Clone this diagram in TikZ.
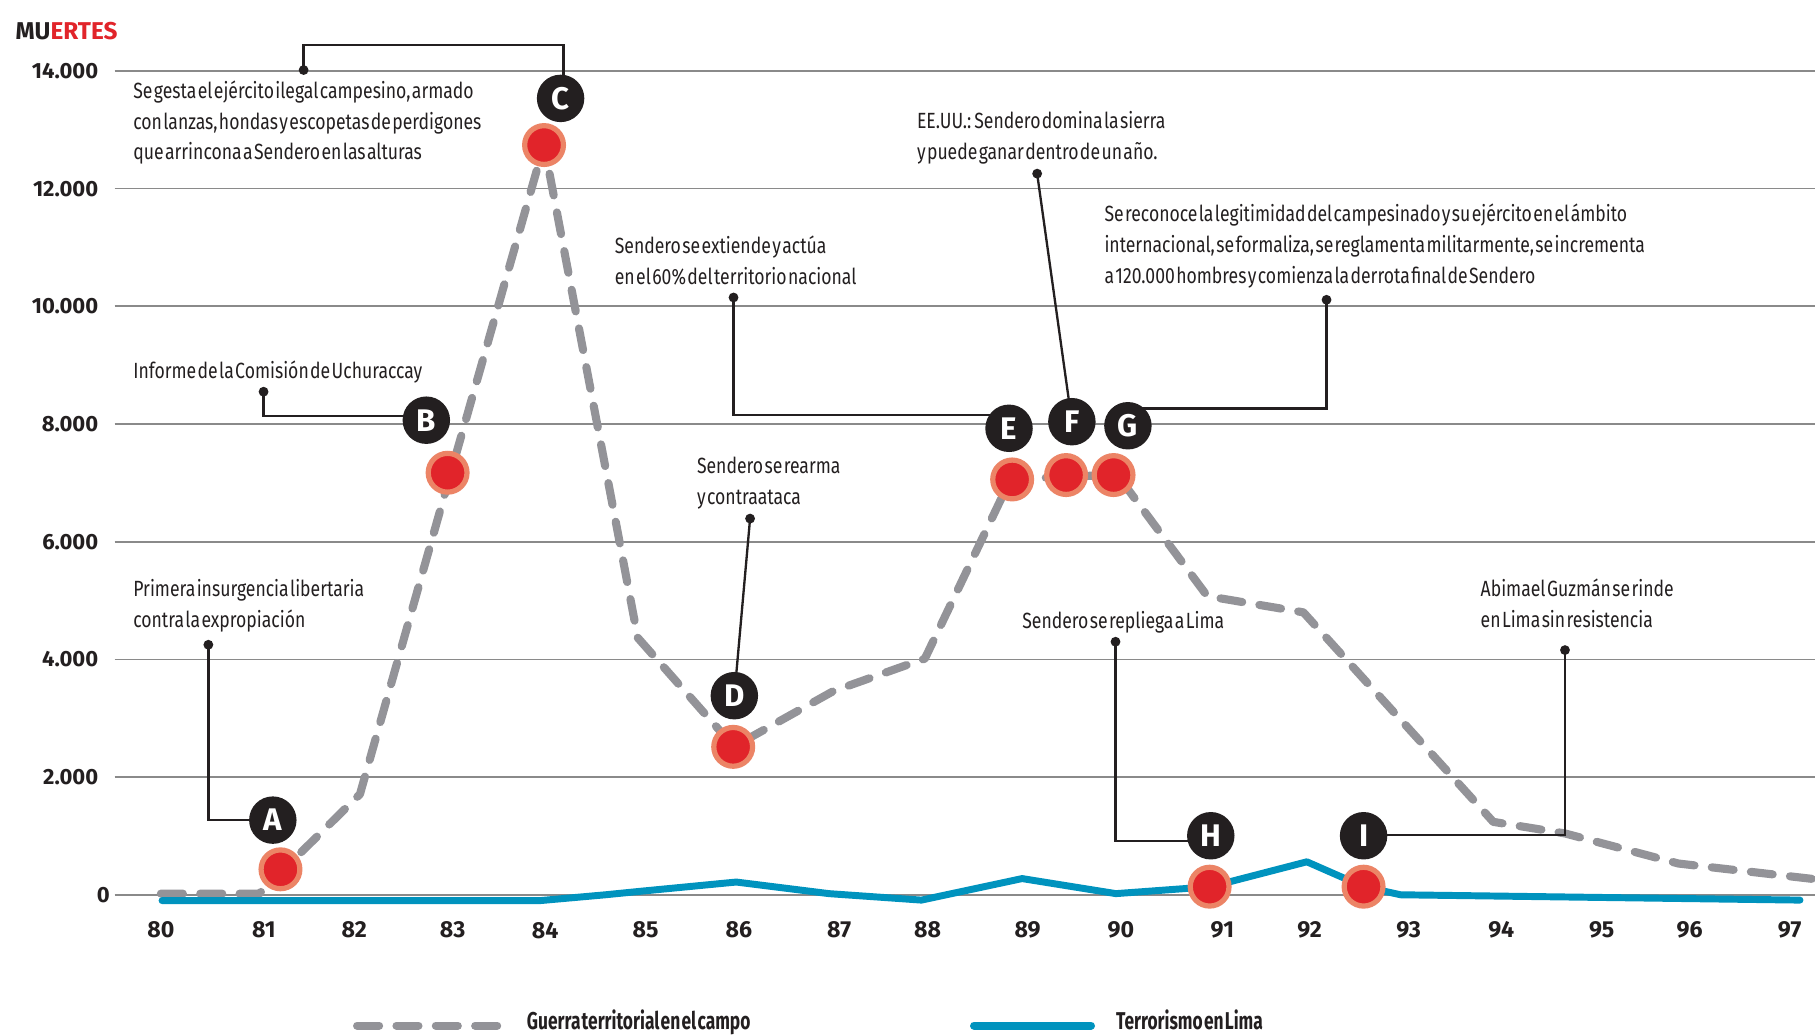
\documentclass[tikz,border=0pt]{standalone}
\usepackage{fontspec}
\setmainfont{Fira Sans}
\newfontfamily\notefam{Fira Sans}[FakeStretch=0.8,WordSpace=0.3]
\newfontfamily\legfam{Fira Sans}[FakeStretch=0.715,WordSpace=0.3]
\definecolor{ink}{HTML}{231F20}
\definecolor{gridc}{HTML}{8A8A8A}
\definecolor{grayl}{HTML}{939398}
\definecolor{bluel}{HTML}{0093BE}
\definecolor{redd}{HTML}{E1242A}
\definecolor{ring}{HTML}{EC8466}
\tikzset{
  gridline/.style={draw=gridc, line width=1.4},
  ylab/.style={anchor=east, inner sep=0, text=ink, font=\fontsize{19}{22}\selectfont\bfseries},
  yrlab/.style={anchor=center, inner sep=0, text=ink, font=\fontsize{20}{24}\selectfont\bfseries},
  note/.style={anchor=base west, inner sep=0, align=left, text=ink, font=\fontsize{19}{26.6}\selectfont\notefam},
  leg/.style={anchor=base west, inner sep=0, text=ink, font=\fontsize{21}{24}\selectfont\legfam\bfseries},
  grayline/.style={draw=grayl, line width=7, line cap=round, line join=round, dash pattern=on 19 off 15},
  blueline/.style={draw=bluel, line width=6, line cap=round, line join=round},
  lead/.style={draw=ink, line width=2},
  pin/.style={circle, fill=ink, minimum size=8.5, inner sep=0},
  reddot/.style={circle, fill=redd, draw=ring, line width=4.5, minimum size=33.5, inner sep=0},
  badge/.style={circle, fill=ink, minimum size=41, inner sep=0, text=white, font=\fontsize{27}{27}\selectfont\bfseries},
}
\begin{document}
\begin{tikzpicture}[x=1pt,y=-1pt]
\useasboundingbox (0,0) rectangle (1568,895);
\fill[white] (0,0) rectangle (1568,895);

% grid
\foreach \yy in {61.2,163.0,264.6,366.3,468.0,569.6,671.3,773.0}
  \draw[gridline] (99,\yy) -- (1568,\yy);

% y labels
\node[ylab] (y14) at (85,61.2) {14.000};
\node[ylab] (y12) at (85,163.0) {12.000};
\node[ylab] (y10) at (85,264.6) {10.000};
\node[ylab] (y8) at (85,366.3) {8.000};
\node[ylab] (y6) at (85,468.0) {6.000};
\node[ylab] (y4) at (85,569.6) {4.000};
\node[ylab] (y2) at (85,671.3) {2.000};
\node[ylab] (y0) at (95,773.0) {0};

% title
\node[anchor=base west, inner sep=0, font=\fontsize{21}{24}\selectfont\bfseries] (muertes) at (13.3,34) {\textcolor{ink}{MU}\textcolor{redd}{ERTES}};

% year labels
\foreach \xx/\tt in {139/80,228/81,306/82,391/83,471/84,557.7/85,638.4/86,725/87,801.4/88,887.7/89,968.4/90,1056/91,1131.4/92,1217/93,1297/94,1383.7/95,1459.7/96,1546/97}
  \node[yrlab] (yr\tt) at (\xx,803.6) {\tt};

% data lines
\draw[grayline] (139,772) -- (224,772) -- (311,686) -- (389,410) -- (470,125) -- (551,551)
  -- (634,645) -- (720,597) -- (799,569) -- (873,414) -- (965,410) -- (1043,515)
  -- (1126,529) -- (1290,710) -- (1352,720) -- (1450,746) -- (1572,760);
\draw[blueline] (140,778) -- (467,778) -- (523,773) -- (553,770) -- (636,762) -- (716,772)
  -- (796,777.6) -- (883,759) -- (964,772) -- (1046,766) -- (1129,744.5) -- (1178,766)
  -- (1210,773) -- (1555,777.6);

% notes (anchored at the baseline of their last line)
\node[note] (tC) at (115,138.2) {Se gesta el ejército ilegal campesino, armado\\con lanzas, hondas y escopetas de perdigones\\que arrincona a Sendero en las alturas};
\node[note] (tB) at (115,327) {Informe de la Comisión de Uchuraccay};
\node[note] (tA) at (115,542.1) {Primera insurgencia libertaria\\contra la expropiación};
\node[note] (tE) at (531,245.6) {Sendero se extiende y actúa\\en el 60\% del territorio nacional};
\node[note] (tF) at (792,137.6) {EE.UU.: Sendero domina la sierra\\y puede ganar dentro de un año.};
\node[note] (tG) at (954,244.7) {Se reconoce la legitimidad del campesinado y su ejército en el ámbito\\internacional, se formaliza, se reglamenta militarmente, se incrementa\\a 120.000 hombres y comienza la derrota final de Sendero};
\node[note] (tD) at (602,435.6) {Sendero se rearma\\y contraataca};
\node[note] (tH) at (883,543) {Sendero se repliega a Lima};
\node[note] (tI) at (1279,542.1) {Abimael Guzmán se rinde\\en Lima sin resistencia};

% pins
\node[pin] (pA) at (180,557) {};
\node[pin] (pB) at (227.7,338.4) {};
\node[pin] (pC) at (262.3,60.5) {};
\node[pin] (pD) at (648,448) {};
\node[pin] (pE) at (633.7,257) {};
\node[pin] (pF) at (896,150) {};
\node[pin] (pG) at (1146,259) {};
\node[pin] (pH) at (963.7,554.4) {};
\node[pin] (pI) at (1352,561.6) {};

% badge centres
\coordinate (cA) at (235.7,708.5);
\coordinate (cB) at (368.3,363);
\coordinate (cC) at (484.3,85);
\coordinate (cD) at (634.4,601);
\coordinate (cE) at (871.7,370);
\coordinate (cF) at (926,364.3);
\coordinate (cG) at (974.4,367.8);
\coordinate (cH) at (1046,722);
\coordinate (cI) at (1178,722);

% leader corners
\coordinate (kA) at (180,708.5);
\coordinate (kB) at (227.7,359.2);
\coordinate (kC1) at (262.3,39);
\coordinate (kC2) at (486.7,39);
\coordinate (kE) at (633.7,358.6);
\coordinate (kG) at (1146,352.8);
\coordinate (kH) at (963.7,726.4);
\coordinate (kI) at (1352,721.5);

\draw[lead] (pA.center) -- (kA) -- (kA -| cA);
\draw[lead] (pB.center) -- (kB) -- (kB -| cB);
\draw[lead] (pC.center) -- (kC1) -- (kC2) -- (kC2 |- cC);
\draw[lead] (pD.center) -- (cD);
\draw[lead] (pE.center) -- (kE) -- (kE -| cE);
\draw[lead] (pF.center) -- (cF);
\draw[lead] (pG.center) -- (kG) -- (kG -| cG);
\draw[lead] (pH.center) -- (kH) -- (kH -| cH);
\draw[lead] (pI.center) -- (kI) -- (kI -| cI);

% red dots
\node[reddot] (dA) at (242.3,751) {};
\node[reddot] (dB) at (386.7,408.4) {};
\node[reddot] (dC) at (470,125.3) {};
\node[reddot] (dD) at (633.4,645.2) {};
\node[reddot] (dE) at (874.4,414.2) {};
\node[reddot] (dF) at (921,410.4) {};
\node[reddot] (dG) at (962,410.4) {};
\node[reddot] (dH) at (1045,766) {};
\node[reddot] (dI) at (1178,766) {};

% badges
\node[badge] (A) at (cA) {A};
\node[badge] (B) at (cB) {B};
\node[badge] (C) at (cC) {C};
\node[badge] (D) at (cD) {D};
\node[badge] (E) at (cE) {E};
\node[badge] (F) at (cF) {F};
\node[badge] (G) at (cG) {G};
\node[badge] (H) at (cH) {H};
\node[badge] (I) at (cI) {I};

% legend
\coordinate (lg1a) at (308.5,886);
\coordinate (lg1b) at (435,886);
\draw[grayline] (lg1a) -- (lg1b);
\node[leg] (lg1) at (455,889.5) {Guerra territorial en el campo};
\coordinate (lg2a) at (841.5,886);
\coordinate (lg2b) at (942.5,886);
\draw[blueline, line width=7] (lg2a) -- (lg2b);
\node[leg] (lg2) at (964,889.5) {Terrorismo en Lima};
\end{tikzpicture}
\end{document}
